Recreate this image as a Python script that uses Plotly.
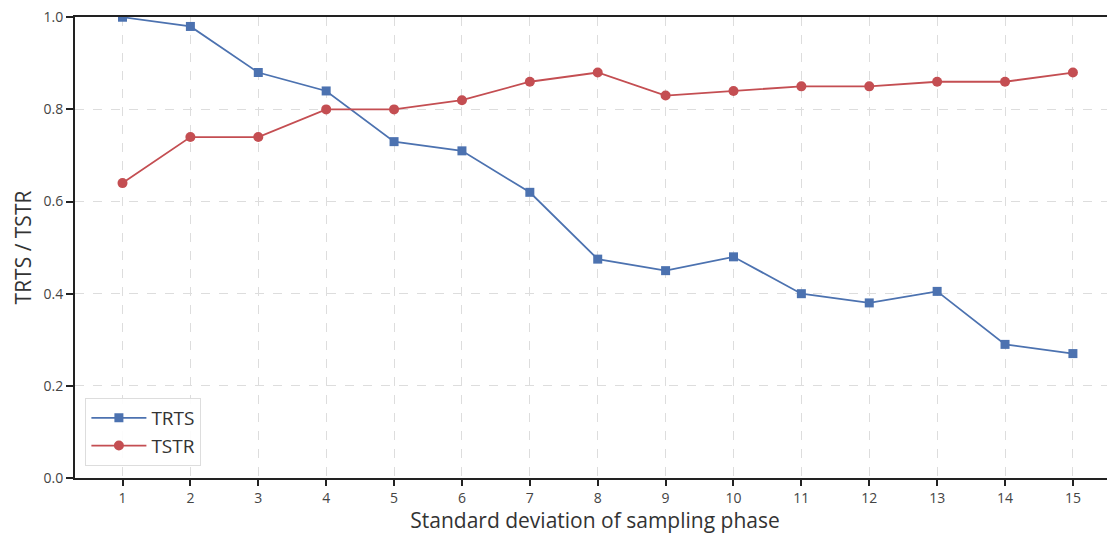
import plotly.graph_objects as go

x_vals = list(range(1, 16))
trts = [1.0, 0.98, 0.88, 0.84, 0.73, 0.71, 0.62, 0.475, 0.45, 0.48, 0.40, 0.38, 0.405, 0.29, 0.27]
tstr = [0.64, 0.74, 0.74, 0.80, 0.80, 0.82, 0.86, 0.88, 0.83, 0.84, 0.85, 0.85, 0.86, 0.86, 0.88]
y_ticks = [0.0, 0.2, 0.4, 0.6, 0.8, 1.0]

fig = go.Figure()
fig.add_trace(go.Scatter(x=x_vals, y=trts, name="TRTS", mode="lines+markers",
                         line=dict(color="#4C72B0", width=1.8),
                         marker=dict(symbol="square", size=9, color="#4C72B0")))
fig.add_trace(go.Scatter(x=x_vals, y=tstr, name="TSTR", mode="lines+markers",
                         line=dict(color="#C44E52", width=1.8),
                         marker=dict(symbol="circle", size=10, color="#C44E52")))

font_family = "Open Sans, DejaVu Sans, sans-serif"
fig.update_layout(
    width=1107, height=526,
    margin=dict(l=67, r=0, t=9, b=56, autoexpand=False),
    plot_bgcolor="white", paper_bgcolor="white",
    font=dict(family=font_family, color="#444444"),
    showlegend=True,
    legend=dict(x=0.01, y=0.026, xanchor="left", yanchor="bottom",
                bgcolor="rgba(255,255,255,0.9)", bordercolor="#dddddd", borderwidth=1,
                font=dict(size=19, color="#333333"), itemwidth=55,
                tracegroupgap=6),
    xaxis=dict(range=[0.3, 15.62], tickvals=x_vals, ticktext=[str(v) for v in x_vals],
               automargin=False, ticklabeloverflow="allow",
               showline=True, linecolor="#222222", linewidth=2, mirror=True,
               ticks="outside", ticklen=6, tickcolor="#222222", tickwidth=1.5,
               showgrid=True, gridcolor="#dddddd", griddash="dash", gridwidth=1,
               zeroline=False, tickfont=dict(size=14),
               title=dict(text="Standard deviation of sampling phase", font=dict(size=21, color="#333333"), standoff=4)),
    yaxis=dict(range=[0, 1.0005], tickvals=y_ticks, ticktext=["0.0", "0.2", "0.4", "0.6", "0.8", "1.0"],
               automargin=False, ticklabeloverflow="allow",
               showline=True, linecolor="#222222", linewidth=2, mirror=False,
               ticks="outside", ticklen=7, tickcolor="#222222", tickwidth=1.5,
               showgrid=True, gridcolor="#dddddd", griddash="dash", gridwidth=1,
               zeroline=False, tickfont=dict(size=14),
               title=dict(text="TRTS / TSTR", font=dict(size=21, color="#333333"), standoff=6)),
)

fig.write_html("out.html")
